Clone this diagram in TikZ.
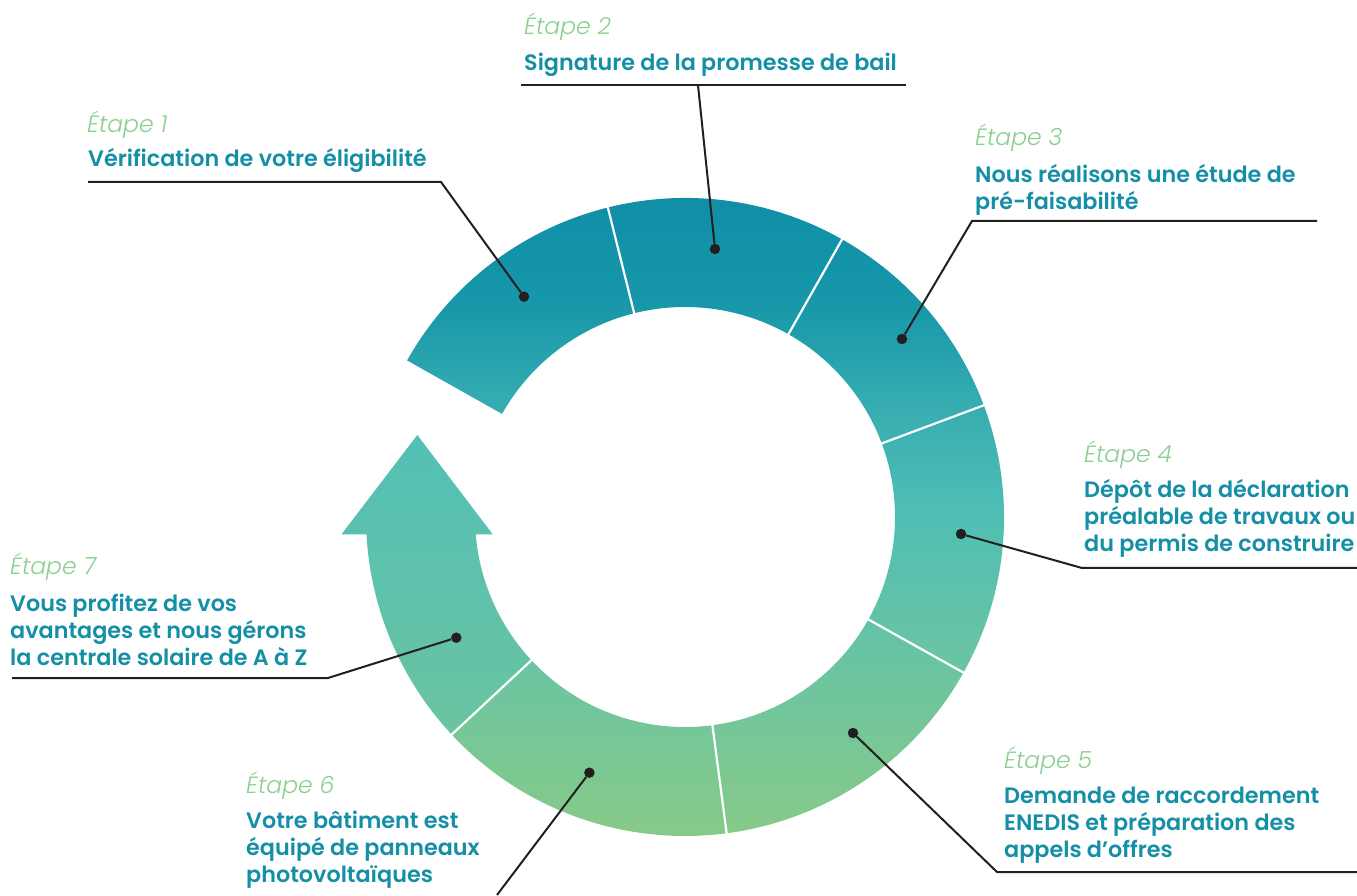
\documentclass[tikz,border=0pt]{standalone}
\usepackage{fontspec}
\setmainfont{Poppins}[BoldFont={Poppins SemiBold}, ItalicFont={Poppins Light Italic}]
\usepackage{xcolor}
\definecolor{ringA}{HTML}{0C8BA6}
\definecolor{ringB}{HTML}{1797A9}
\definecolor{ringC}{HTML}{38AEB2}
\definecolor{ringD}{HTML}{50BEB4}
\definecolor{ringE}{HTML}{6AC4A2}
\definecolor{ringF}{HTML}{87CA88}
\definecolor{arrowtop}{HTML}{53BFB6}
\definecolor{arrowbot}{HTML}{6AC4A0}
\definecolor{steptitle}{HTML}{148FA6}
\definecolor{steplabel}{HTML}{8ACF8E}
\definecolor{leader}{HTML}{231F20}
\pgfdeclareverticalshading{anneau}{100bp}{
    color(0bp)=(ringF); color(25bp)=(ringF); color(38bp)=(ringE);
    color(48.6bp)=(ringD); color(56bp)=(ringC); color(64bp)=(ringB);
    color(75bp)=(ringA); color(100bp)=(ringA)}

\begin{document}
\begin{tikzpicture}[
    x = 1pt, y = 1pt,
    etape/.style = {
        anchor=base west, inner sep=0pt, text=steplabel,
        font=\fontsize{23.5}{27}\selectfont\itshape
    },
    titre/.style = {
        anchor=base west, inner sep=0pt, text=steptitle, align=left,
        font=\fontsize{22.3}{27}\selectfont\bfseries
    },
    point/.style = {circle, fill=leader, inner sep=0pt, minimum size=10.5pt},
    trait/.style = {draw=leader, line width=2pt},
    sep/.style = {draw=white, line width=2.2pt}
  ]
    \useasboundingbox (0,0) rectangle (1357,895);

    % anneau, etapes 1 a 6
    \shade[shading=anneau, shift={(685,378)}]
        (150.6:319) arc[start angle=150.6, end angle=-137, radius=319]
        -- (-137:210) arc[start angle=-137, end angle=150.6, radius=210] -- cycle;
    % fleche, etape 7
    \shade[top color=arrowtop, bottom color=arrowbot, shift={(685,378)}]
        (223:319) arc[start angle=223, end angle=183.11, radius=319]
        -- (-343.5,-17.3) -- (-267.7,82) -- (-192.3,-17.3) -- (184.73:210)
        arc[start angle=184.73, end angle=223, radius=210] -- cycle;
    \foreach \a in {104, 60.5, 20.5, -29.2, -82.5, 223}
        \draw[sep, shift={(685,378)}] (\a:205) -- (\a:324);

    \node[point] (point1) at (524,598.3) {};  % 第1步
    \node[point] (point2) at (715,646) {};    % 第2步
    \node[point] (point3) at (902,556) {};    % 第3步
    \node[point] (point4) at (961,361) {};    % 第4步
    \node[point] (point5) at (853,162) {};    % 第5步
    \node[point] (point6) at (589.4,122.3) {};  % 第6步
    \node[point] (point7) at (456.3,257.3) {};  % 第7步

    % 多行文字: base 是最后一行
    \node[etape] (etape1) at (87,762) {Étape 1};
    \node[titre] (titre1) at (88,728) {Vérification de votre éligibilité};
    \node[etape] (etape2) at (524,860) {Étape 2};
    \node[titre] (titre2) at (524,824.3) {Signature de la promesse de bail};
    \node[etape] (etape3) at (975,749) {Étape 3};
    \node[titre] (titre3) at (975,685) {Nous réalisons une étude de\\pré-faisabilité};
    \node[etape] (etape4) at (1084,432) {Étape 4};
    \node[titre] (titre4) at (1084,343) {Dépôt de la déclaration\\préalable de travaux ou\\du permis de construire};
    \node[etape] (etape5) at (1004,127) {Étape 5};
    \node[titre] (titre5) at (1004,38) {Demande de raccordement\\ENEDIS et préparation des\\appels d’offres};
    \node[etape] (etape6) at (246,102) {Étape 6};
    \node[titre] (titre6) at (246,13) {Votre bâtiment est\\équipé de panneaux\\photovoltaïques};
    \node[etape] (etape7) at (10,320) {Étape 7};
    \node[titre] (titre7) at (10,229.3) {Vous profitez de vos\\avantages et nous gérons\\la centrale solaire de A à Z};

    \coordinate (bout1) at (88,713);   \coordinate (coude1) at (441,713);
    \coordinate (bout2) at (521,810);  \coordinate (fin2) at (906,810);
    \coordinate (coude2) at (698,810);
    \coordinate (coude3) at (972,674); \coordinate (bout3) at (1317,674);
    \coordinate (coude4) at (1082,327); \coordinate (bout4) at (1357,327);
    \coordinate (coude5) at (997,23);  \coordinate (bout5) at (1357,23);
    \coordinate (bout6) at (497,0);
    \coordinate (bout7) at (12,217);   \coordinate (coude7) at (328,217);

    \draw[trait] (bout1) -- (coude1) -- (point1);
    \draw[trait] (bout2) -- (fin2);
    \draw[trait] (coude2) -- (point2);
    \draw[trait] (bout3) -- (coude3) -- (point3);
    \draw[trait] (bout4) -- (coude4) -- (point4);
    \draw[trait] (bout5) -- (coude5) -- (point5);
    \draw[trait] (bout6) -- (point6);
    \draw[trait] (bout7) -- (coude7) -- (point7);
\end{tikzpicture}
\end{document}
